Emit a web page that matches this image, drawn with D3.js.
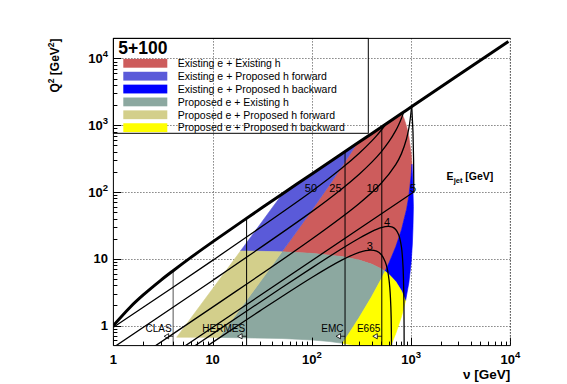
<!DOCTYPE html>
<html>
<head>
<meta charset="utf-8">
<script src="https://cdn.jsdelivr.net/npm/d3@7"></script>
<style>
  body { margin: 0; background: #fff; }
  svg { display: block; font-family: 'Liberation Sans', Arial, Helvetica, sans-serif; }
</style>
</head>
<body>
<div id="chart"></div>
<script>
// ---- data (nu [GeV], Q2 [GeV^2]) ----
const beamLabel = '5+100';

const legendLabels = [
    'Existing e + Existing h',
    'Existing e + Proposed h forward',
    'Existing e + Proposed h backward',
    'Proposed e + Existing h',
    'Proposed e + Proposed h forward',
    'Proposed e + Proposed h backward',
];
const regionColors = ['#cd5c5c', '#5a5ad9', '#0000ff', '#8ca8a0', '#d3cf8b', '#ffff00'];

const existingEExistingH = [[49.97, 12.68], [70, 25.4], [100, 53.4], [150, 126.7], [200, 238.3], [250, 395], [284.3, 532],
    [500, 937], [806, 1511], [850, 1256], [900, 965], [950, 674.6], [1000, 383.8], [1021, 261],
    [1000, 170.6], [950, 87.6], [900, 54.9], [800, 27.09], [700, 15.07], [600, 8.7], [546.7, 6.48],
    [500, 7.06], [400, 8.31], [300, 9.56], [200, 10.8], [100, 12.05], [49.97, 12.68]];
const existingEProposedHFwd = [[19.09, 13.06], [30, 32.6], [40, 58.5], [50.76, 94.3], [100, 186.7], [284.3, 532],
    [250, 395], [200, 238.3], [150, 126.7], [100, 53.4], [70, 25.4], [49.97, 12.68], [30, 12.93], [19.09, 13.06]];
const existingEProposedHBwd = [[546.7, 6.48], [600, 8.7], [700, 15.07], [800, 27.09], [900, 54.9], [950, 87.6],
    [1000, 170.6], [1021, 261], [1040, 151], [1055.3, 60], [1045, 29.3], [1030, 16.6], [1000, 8.53],
    [950, 4.38], [879.2, 2.33], [800, 3.32], [700, 4.57], [600, 5.81], [546.7, 6.48]];
const proposedEExistingH = [[11.64, 0.663], [20, 1.973], [30, 4.48], [40, 8.05], [49.97, 12.68], [100, 12.05],
    [200, 10.8], [300, 9.56], [400, 8.31], [500, 7.06], [546.7, 6.48], [500, 4.97], [400, 2.7],
    [300, 1.322], [250, 0.862], [203.7, 0.542], [150, 0.576], [100, 0.607], [50, 0.639], [11.64, 0.663]];
const proposedEProposedHFwd = [[4.345, 0.667], [6, 1.274], [10, 3.553], [15, 8.03], [19.09, 13.06], [30, 12.93],
    [49.97, 12.68], [40, 8.05], [30, 4.48], [20, 1.973], [11.64, 0.663], [6, 0.666], [4.345, 0.667]];
const proposedEProposedHBwd = [[546.7, 6.48], [600, 5.81], [700, 4.57], [800, 3.32], [879.2, 2.33], [800, 1.355],
    [700, 0.754], [625.5, 0.5], [600, 0.43], [300, 0.45], [271, 0.5], [250, 0.513], [203.7, 0.542],
    [250, 0.862], [300, 1.322], [400, 2.7], [500, 4.97], [546.7, 6.48]];
const regions = [existingEExistingH, existingEProposedHFwd, existingEProposedHBwd,
    proposedEExistingH, proposedEProposedHFwd, proposedEProposedHBwd];

// kinematic limit (thick line)
const kinematicLimit = [[1, 1.0], [1.5, 1.93], [2, 2.87], [3, 4.75], [4, 6.62], [6, 10.4], [10, 17.9], [20, 36.6],
    [50.76, 94.3], [100, 186.7], [284.3, 532], [806, 1511], [1000, 1875], [9570, 17950]];

// lines of constant jet energy
const ejet50 = [[1, 0.939], [10, 9.46], [100, 102.5], [200, 226.6], [300, 380.6], [400, 578], [450, 699.6],
    [500, 841.8], [530, 939.6], [561, 1052]];
const ejet25 = [[1, 0.469], [10, 4.73], [100, 50.8], [200, 111.1], [300, 184.8], [400, 277.7], [500, 400.2],
    [600, 571.3], [700, 830.7], [750, 1019.8], [800, 1278], [820, 1410], [842, 1580]];
const ejet10 = [[1, 0.1877], [10, 1.885], [100, 19.73], [300, 67.3], [500, 135.2], [700, 257], [800, 375.8],
    [900, 626.7], [950, 908.2], [980, 1231], [1000, 1609], [1010, 1895]];
const ejet5 = [[1, 0.0938], [1066, 100], [1060, 300], [1045, 800], [1016, 1906]];
const ejet4 = [[5, 0.375], [10, 0.7486], [30, 2.235], [100, 7.31], [200, 14.14], [300, 20.31], [400, 25.5],
    [500, 29.23], [589, 30.56], [650, 29.72], [700, 27.41], [750, 22.88], [800, 14.89], [830, 7.53],
    [845, 2.79], [850, 1.02], [852, 0.319]];
const ejet3 = [[6, 0.336], [10, 0.559], [30, 1.656], [100, 5.24], [200, 9.52], [300, 12.48], [392, 13.51],
    [450, 12.99], [500, 11.57], [550, 8.96], [575, 7.1], [600, 4.78], [610, 3.72], [620, 2.56], [630, 1.3], [638, 0.224]];
const ejetCurves = [ejet50, ejet25, ejet10, ejet5, ejet4, ejet3];
const ejetLabels = ['50', '25', '10', '5', '4', '3'];
const ejetLabelPos = [[85, 100], [150, 100], [355, 100], [975, 100], [535, 31], [357, 13.5]];
const ejetTitlePos = [2281, 151];

// fixed-target experiments: max nu, top of line, label
const experimentNames = ['CLAS', 'HERMES', 'EMC', 'E665'];
const experimentNu = [4, 22, 216, 507];
const experimentTopQ2 = [6.62, 40.4, 404, 950];
const experimentArrowQ2 = 0.69;
const experimentLabelQ2 = 0.81;

const xTickMajor = [1, 10, 100, 1000, 10000];
const xTickLabels = [['1'], ['10'], ['10', '2'], ['10', '3'], ['10', '4']];
const yTickMajor = [1, 10, 100, 1000, 10000];
const yTickLabels = [['1'], ['10'], ['10', '2'], ['10', '3'], ['10', '4']];

// ---- layout ----
const width = 567, height = 384;
const frame = {left: 113.4, right: 510.3, top: 38.4, bottom: 345.6};

const x = d3.scaleLog().domain([1, 1e4]).range([frame.left, frame.right]);
const y = d3.scaleLog().domain([0.5, 2e4]).range([frame.bottom, frame.top]);

const svg = d3.select('#chart').append('svg')
    .attr('width', width)
    .attr('height', height);

svg.append('rect').attr('width', width).attr('height', height).attr('fill', '#fff');

svg.append('clipPath').attr('id', 'frameClip')
    .append('rect')
    .attr('x', frame.left).attr('y', frame.top)
    .attr('width', frame.right - frame.left).attr('height', frame.bottom - frame.top);

const minorTicks = (lo, hi) => {
    const t = [];
    for (let e = Math.floor(Math.log10(lo)); e <= Math.ceil(Math.log10(hi)); e++) {
        for (let m = 2; m <= 9; m++) {
            const v = m * Math.pow(10, e);
            if (v > lo && v < hi) t.push(v);
        }
    }
    return t;
};

// grid
const grid = svg.append('g')
    .attr('stroke', '#444')
    .attr('stroke-width', 1)
    .attr('stroke-dasharray', '1,2');
grid.selectAll('.gx').data(xTickMajor.slice(1)).enter().append('line')
    .attr('x1', d => Math.round(x(d)) + 0.5).attr('x2', d => Math.round(x(d)) + 0.5)
    .attr('y1', frame.top).attr('y2', frame.bottom);
grid.selectAll('.gy').data(yTickMajor).enter().append('line')
    .attr('x1', frame.left).attr('x2', frame.right)
    .attr('y1', d => Math.round(y(d)) + 0.5).attr('y2', d => Math.round(y(d)) + 0.5);

const plot = svg.append('g').attr('clip-path', 'url(#frameClip)');

const area = d3.line().x(d => x(d[0])).y(d => y(d[1]));
plot.selectAll('path.region')
    .data(regions)
    .enter().append('path')
    .attr('class', 'region')
    .attr('d', d => area(d) + 'Z')
    .attr('fill', (d, i) => regionColors[i])
    .attr('stroke', (d, i) => regionColors[i])
    .attr('stroke-width', 0.6);

// experiment limits
experimentNu.forEach((nu, i) => {
    const xx = x(nu);
    plot.append('line')
        .attr('x1', xx).attr('x2', xx)
        .attr('y1', frame.bottom).attr('y2', y(experimentTopQ2[i]))
        .attr('stroke', i === 0 ? '#555' : '#000')
        .attr('stroke-width', 1);
    const ya = y(experimentArrowQ2);
    plot.append('line')
        .attr('x1', xx).attr('x2', xx - 5)
        .attr('y1', ya).attr('y2', ya)
        .attr('stroke', '#000').attr('stroke-width', 0.8);
    plot.append('path')
        .attr('d', `M${xx - 9},${ya} L${xx - 4.5},${ya - 2.6} L${xx - 4.5},${ya + 2.6} Z`)
        .attr('fill', '#fff').attr('stroke', '#000').attr('stroke-width', 0.8);
    svg.append('text')
        .attr('x', xx - 1.5).attr('y', y(experimentLabelQ2))
        .attr('text-anchor', 'end')
        .attr('font-size', 10)
        .attr('fill', '#000')
        .text(experimentNames[i]);
});

// jet energy lines
const curve = d3.line().x(d => x(d[0])).y(d => y(d[1])).curve(d3.curveCatmullRom.alpha(0.5));
const straight = d3.line().x(d => x(d[0])).y(d => y(d[1]));
plot.selectAll('path.ejet')
    .data(ejetCurves)
    .enter().append('path')
    .attr('class', 'ejet')
    .attr('d', (d, i) => i === 3 ? straight(d) : curve(d))
    .attr('fill', 'none')
    .attr('stroke', '#000')
    .attr('stroke-width', 1.3);

plot.append('path')
    .attr('d', curve(kinematicLimit))
    .attr('fill', 'none')
    .attr('stroke', '#000')
    .attr('stroke-width', 3);

svg.selectAll('text.ejetlabel')
    .data(ejetLabels)
    .enter().append('text')
    .attr('class', 'ejetlabel')
    .attr('x', (d, i) => x(ejetLabelPos[i][0]))
    .attr('y', (d, i) => y(ejetLabelPos[i][1]))
    .attr('font-size', 11)
    .text(d => d);

const ejetTitle = svg.append('text')
    .attr('x', x(ejetTitlePos[0])).attr('y', y(ejetTitlePos[1]))
    .attr('font-size', 10.5).attr('font-weight', 'bold');
ejetTitle.append('tspan').text('E');
ejetTitle.append('tspan').attr('dy', 3).attr('font-size', 7.5).text('jet');
ejetTitle.append('tspan').attr('dy', -3).text('  [GeV]');

// legend
const legend = svg.append('g');
legend.append('rect')
    .attr('x', frame.left).attr('y', frame.top)
    .attr('width', 368.3 - frame.left).attr('height', 133.3 - frame.top)
    .attr('fill', 'none').attr('stroke', '#000').attr('stroke-width', 1);
legend.append('text')
    .attr('x', 118.3).attr('y', 53.6)
    .attr('font-size', 17.5).attr('font-weight', 'bold')
    .text(beamLabel);
legendLabels.forEach((label, i) => {
    const cy = 63.3 + i * 12.87;
    legend.append('rect')
        .attr('x', 123.3).attr('y', cy - 4.4)
        .attr('width', 44).attr('height', 8.8)
        .attr('fill', regionColors[i]);
    legend.append('text')
        .attr('x', 177.7).attr('y', cy + 3.8)
        .attr('font-size', 10.5)
        .text(label);
});

// axes
const axes = svg.append('g').attr('stroke', '#000').attr('stroke-width', 1);
xTickMajor.forEach(v => {
    const xx = Math.round(x(v)) + 0.5;
    axes.append('line').attr('x1', xx).attr('x2', xx).attr('y1', frame.bottom).attr('y2', frame.bottom - 8);
});
minorTicks(1, 1e4).forEach(v => {
    const xx = Math.round(x(v)) + 0.5;
    axes.append('line').attr('x1', xx).attr('x2', xx).attr('y1', frame.bottom).attr('y2', frame.bottom - 4);
});
yTickMajor.forEach(v => {
    const yy = Math.round(y(v)) + 0.5;
    axes.append('line').attr('x1', frame.left).attr('x2', frame.left + 8).attr('y1', yy).attr('y2', yy);
});
minorTicks(0.5, 2e4).forEach(v => {
    const yy = Math.round(y(v)) + 0.5;
    axes.append('line').attr('x1', frame.left).attr('x2', frame.left + 4).attr('y1', yy).attr('y2', yy);
});
axes.append('path')
    .attr('d', `M${frame.right},${frame.top} L${frame.left},${frame.top} L${frame.left},${frame.bottom} L${frame.right},${frame.bottom}`)
    .attr('fill', 'none');
axes.append('line')
    .attr('x1', frame.right).attr('x2', frame.right)
    .attr('y1', frame.top).attr('y2', frame.bottom)
    .attr('stroke', '#333').attr('stroke-dasharray', '1,2');

const tickLabel = (sel, parts) => {
    sel.append('tspan').text(parts[0]);
    if (parts[1]) sel.append('tspan').attr('dy', -6).attr('font-size', 9.5).text(parts[1]);
};
xTickMajor.forEach((v, i) => {
    svg.append('text')
        .attr('x', x(v)).attr('y', 364)
        .attr('text-anchor', 'middle')
        .attr('font-size', 13).attr('font-weight', 'bold')
        .call(tickLabel, xTickLabels[i]);
});
yTickMajor.forEach((v, i) => {
    svg.append('text')
        .attr('x', 108).attr('y', y(v) + 4.7)
        .attr('text-anchor', 'end')
        .attr('font-size', 13).attr('font-weight', 'bold')
        .call(tickLabel, yTickLabels[i]);
});

// axis titles
const xTitle = svg.append('text')
    .attr('x', frame.right).attr('y', 378.5)
    .attr('text-anchor', 'end')
    .attr('font-size', 13.5).attr('font-weight', 'bold');
xTitle.append('tspan').text('\u03bd  [GeV]');

const yTitle = svg.append('text')
    .attr('transform', `translate(59,${frame.top}) rotate(-90)`)
    .attr('text-anchor', 'end')
    .attr('font-size', 12).attr('font-weight', 'bold');
yTitle.append('tspan').text('Q');
yTitle.append('tspan').attr('dy', -5).attr('font-size', 8.5).text('2');
yTitle.append('tspan').attr('dy', 5).text(' [GeV');
yTitle.append('tspan').attr('dy', -5).attr('font-size', 8.5).text('2');
yTitle.append('tspan').attr('dy', 5).text(']');
</script>
</body>
</html>
